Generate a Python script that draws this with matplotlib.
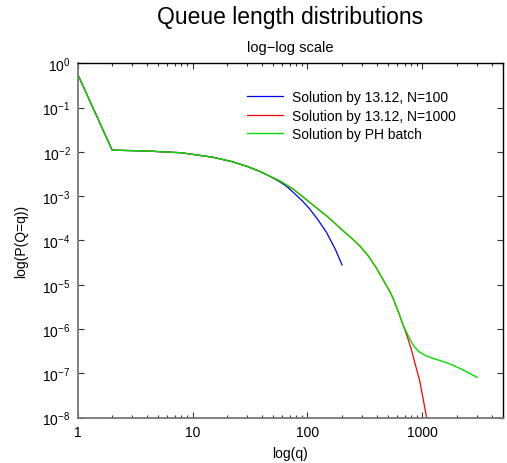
import matplotlib
matplotlib.use("Agg")
import matplotlib.pyplot as plt
from matplotlib.ticker import LogLocator, NullLocator, NullFormatter

plt.rcParams["font.family"] = ["Liberation Sans", "DejaVu Sans"]
plt.rcParams["mathtext.fontset"] = "custom"
plt.rcParams["mathtext.rm"] = "Liberation Sans"
plt.rcParams["mathtext.default"] = "regular"

# values
q_n100 = [1, 2, 4, 8, 15, 22, 30, 38.5, 47, 57, 66, 75, 90, 105, 125, 146, 175, 200]
p_n100 = [0.575, 1.096e-2, 1.047e-2, 9.55e-3, 7.59e-3, 6.03e-3, 4.68e-3, 3.63e-3,
          2.82e-3, 2.14e-3, 1.66e-3, 1.23e-3, 7.9e-4, 5.1e-4, 2.8e-4, 1.55e-4,
          6.3e-5, 2.8e-5]

q_n1000 = [1, 2, 4, 8, 15, 22, 30, 38.5, 47, 57, 75, 90, 105, 125, 146, 175, 204,
           240, 285, 340, 398, 470, 520, 555, 620, 677, 700, 750, 800, 857, 900,
           948, 1000, 1050, 1084, 1120]
p_n1000 = [0.575, 1.096e-2, 1.047e-2, 9.55e-3, 7.59e-3, 6.03e-3, 4.68e-3, 3.63e-3,
           2.82e-3, 2.24e-3, 1.45e-3, 1.0e-3, 7.2e-4, 5.0e-4, 3.63e-4, 2.4e-4, 1.66e-4,
           1.15e-4, 7.6e-5, 4.4e-5, 2.4e-5, 1.12e-5, 7.1e-6, 5.0e-6, 2.4e-6, 1.26e-6,
           1.0e-6, 6.0e-7, 3.55e-7, 1.78e-7, 1.12e-7, 6.8e-8, 3.3e-8, 1.66e-8,
           1.07e-8, 6.3e-9]

q_ph = [1, 2, 4, 8, 15, 22, 30, 38.5, 47, 57, 75, 90, 105, 125, 146, 175, 204,
        240, 285, 340, 398, 470, 520, 555, 620, 677, 730, 776, 850, 948, 1050,
        1200, 1500, 1800, 2250, 3000]
p_ph = [0.575, 1.096e-2, 1.047e-2, 9.55e-3, 7.59e-3, 6.03e-3, 4.68e-3, 3.63e-3,
        2.82e-3, 2.24e-3, 1.45e-3, 1.0e-3, 7.2e-4, 5.0e-4, 3.63e-4, 2.4e-4, 1.66e-4,
        1.15e-4, 7.6e-5, 4.4e-5, 2.4e-5, 1.12e-5, 7.1e-6, 5.0e-6, 2.4e-6, 1.26e-6,
        8.3e-7, 6.0e-7, 4.0e-7, 3.0e-7, 2.57e-7, 2.24e-7, 1.86e-7, 1.58e-7,
        1.2e-7, 8.1e-8]

labels = ["Solution by 13.12, N=100", "Solution by 13.12, N=1000", "Solution by PH batch"]

fig = plt.figure(figsize=(5.07, 4.64), dpi=100)
ax = fig.add_axes([0.153, 0.0978, 0.8385, 0.7636])

ax.plot(q_n100, p_n100, color="#0000ff", lw=0.9, label=labels[0])
ax.plot(q_n1000, p_n1000, color="#ff0000", lw=0.9, label=labels[1])
ax.plot(q_ph, p_ph, color="#00e000", lw=1.0, label=labels[2])

ax.set_xscale("log")
ax.set_yscale("log")
ax.set_xlim(1, 5000)
ax.set_ylim(1e-8, 1)

ax.xaxis.set_minor_locator(LogLocator(base=10, subs=range(2, 10), numticks=20))
ax.xaxis.set_minor_formatter(NullFormatter())
ax.set_xticks([1, 10, 100, 1000])
ax.set_xticklabels(["1", "10", "100", "1000"])
ax.yaxis.set_major_locator(LogLocator(base=10, numticks=12))
ax.yaxis.set_minor_locator(NullLocator())

ax.tick_params(which="both", direction="in", top=True, right=True, labelsize=10,
               color="#333333")
ax.tick_params(which="major", length=4, width=0.8, pad=5)
ax.tick_params(which="minor", length=2.2, width=0.8)

for side in ["left", "bottom"]:
    ax.spines[side].set_color("#777777")
    ax.spines[side].set_linewidth(1.3)
for side in ["top", "right"]:
    ax.spines[side].set_color("black")
    ax.spines[side].set_linewidth(1.0)

ax.set_xlabel("log(q)", fontsize=10, labelpad=5.5)
ax.set_ylabel("log(P(Q=q))", fontsize=10, labelpad=10)

fig.text(0.572, 0.962, "Queue length distributions", ha="center", va="center", fontsize=16.5)
fig.text(0.572, 0.897, "log\u2212log scale", ha="center", va="center", fontsize=10.5)

ax.legend(loc="upper left", bbox_to_anchor=(247 / 507, 1 - 91 / 464),
          bbox_transform=fig.transFigure, frameon=False, fontsize=10,
          handlelength=2.6, handletextpad=0.65, labelspacing=0.33,
          borderpad=0, borderaxespad=0)

fig.savefig("out.png", dpi=100)
